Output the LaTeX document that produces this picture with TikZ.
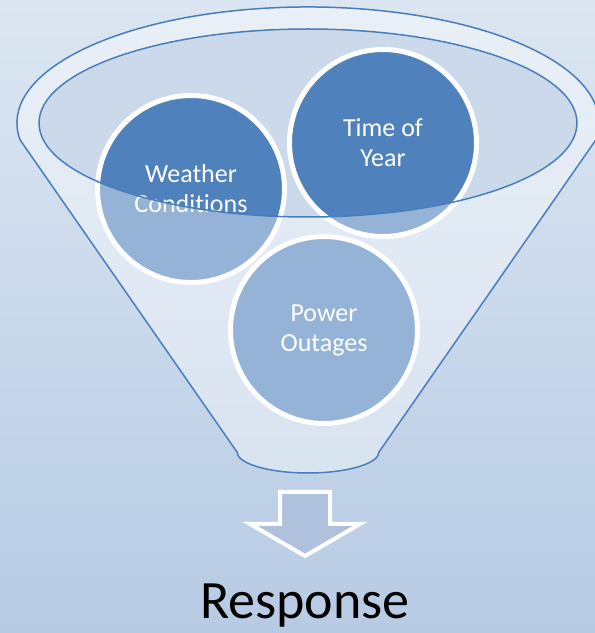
\documentclass[tikz,border=0pt]{standalone}
\usepackage{fontspec}
\setmainfont[Ligatures=NoCommon]{Carlito}
\usepackage{tikz}
\usetikzlibrary{calc}
\definecolor{BackTop}{HTML}{DCE6F2}
\definecolor{BackBottom}{HTML}{B7CBE4}
\definecolor{BubbleBlue}{HTML}{4F81BD}
\definecolor{FunnelLine}{HTML}{4A7EBB}
\definecolor{FunnelInner}{HTML}{CCD9EA}
\definecolor{ArrowFill}{HTML}{AFC1DC}
\tikzset{
  bubble/.style={circle, draw=white, line width=5pt, fill=BubbleBlue, minimum size=187pt,
    inner sep=0pt, text=white, align=center, font=\fontsize{26}{30}\selectfont},
  rim/.style={draw=FunnelLine, line width=1.5pt},
  glass/.style={fill=white, fill opacity=0.4, even odd rule},
  blockarrow/.style={draw=white, line width=4pt, fill=ArrowFill, miter limit=10},
  label/.style={text=black, font=\fontsize{54}{60}\selectfont},
}
\begin{document}
\begin{tikzpicture}[x=1pt, y=1pt]
  \useasboundingbox (0,0) rectangle (595,633);
  \shade[top color=BackTop, bottom color=BackBottom] (0,0) rectangle (595,633);

  % Mouth of the funnel
  \fill[FunnelInner] (308,510) ellipse [x radius=269, y radius=94];

  % Factors
  \node[bubble] (weather) at (191,444) {Weather\\Conditions};
  \node[bubble] (year) at (383,490) {Time of\\Year};
  \node[bubble] (outages) at (324,303) {Power\\Outages};

  % Funnel body
  \coordinate (lefttop) at (20.1,493.1);
  \coordinate (rightbot) at (379,181);
  \path[glass] (lefttop) arc[start angle=188.4, end angle=-8.4, x radius=291, y radius=116]
    -- (rightbot) arc[start angle=0, end angle=-180, x radius=71, y radius=21] -- cycle
    (308,510) ellipse [x radius=269, y radius=94];
  \draw[rim] (lefttop) arc[start angle=188.4, end angle=-8.4, x radius=291, y radius=116]
    -- (rightbot) arc[start angle=0, end angle=-180, x radius=71, y radius=21] -- cycle;
  \draw[rim] (308,510) ellipse [x radius=269, y radius=94];

  % Arrow and result
  \draw[blockarrow] (280,141) -- (330,141) -- (330,109) -- (360,109) -- (305,77)
    -- (250,109) -- (280,109) -- cycle;
  \node[label, anchor=base] (response) at (305,14) {Response};
\end{tikzpicture}
\end{document}
